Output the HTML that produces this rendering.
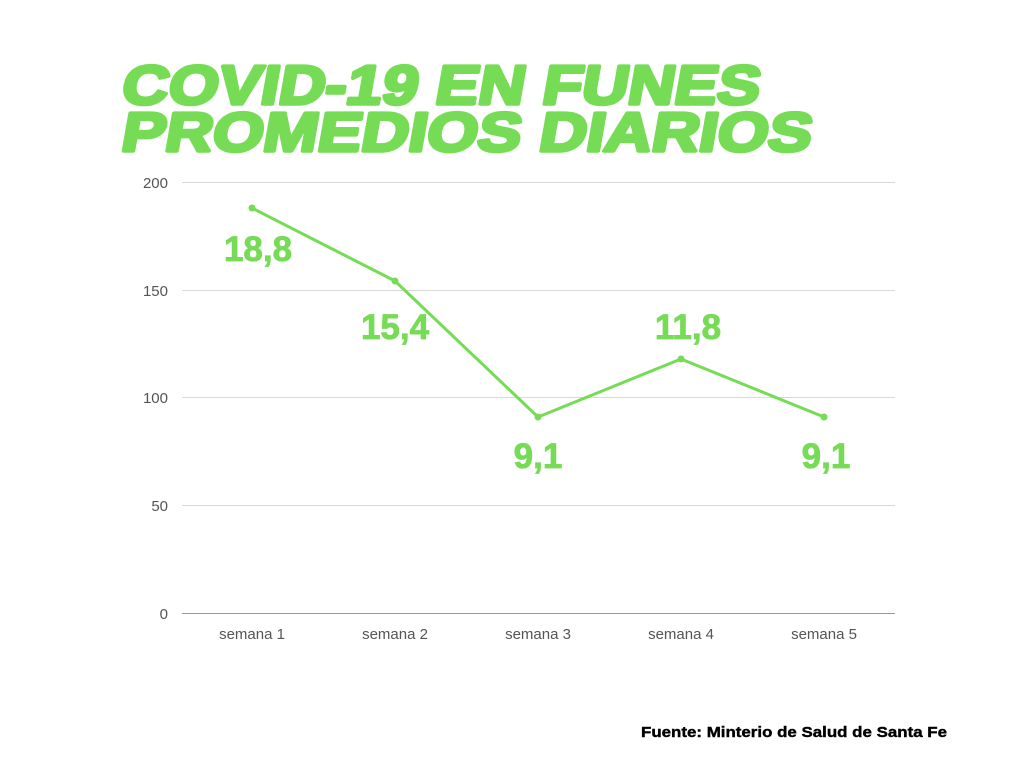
<!DOCTYPE html>
<html><head><meta charset="utf-8"><style>
html,body{margin:0;padding:0;background:#fff;}
svg{display:block;}
</style></head><body>
<svg width="1024" height="768" viewBox="0 0 1024 768" xmlns="http://www.w3.org/2000/svg">
<rect width="1024" height="768" fill="#fff"/>
<g font-family="Liberation Sans, sans-serif" font-weight="bold" fill="#76DB55" stroke="#76DB55" stroke-width="3.5" stroke-linejoin="round" font-size="55">
<text x="120" y="104" textLength="638" lengthAdjust="spacingAndGlyphs" transform="skewX(-10) translate(18,0)">COVID-19 EN FUNES</text>
<text x="120" y="151" textLength="690" lengthAdjust="spacingAndGlyphs" transform="skewX(-10) translate(26,0)">PROMEDIOS DIARIOS</text>
</g>
<g stroke="#d9d9d9" stroke-width="1">
<line x1="182" y1="182.5" x2="895" y2="182.5"/>
<line x1="182" y1="290.5" x2="895" y2="290.5"/>
<line x1="182" y1="397.5" x2="895" y2="397.5"/>
<line x1="182" y1="505.5" x2="895" y2="505.5"/>
</g>
<line x1="182" y1="613.5" x2="895" y2="613.5" stroke="#999" stroke-width="1"/>
<g font-family="Liberation Sans, sans-serif" font-size="15" fill="#555" text-anchor="end">
<text x="168" y="188">200</text>
<text x="168" y="296">150</text>
<text x="168" y="403">100</text>
<text x="168" y="511">50</text>
<text x="168" y="619">0</text>
</g>
<g font-family="Liberation Sans, sans-serif" font-size="15" fill="#555" text-anchor="middle">
<text x="252" y="639">semana 1</text>
<text x="395" y="639">semana 2</text>
<text x="538" y="639">semana 3</text>
<text x="681" y="639">semana 4</text>
<text x="824" y="639">semana 5</text>
</g>
<polyline points="252,208 395,281 538,417 681,359 824,417" fill="none" stroke="#76DB55" stroke-width="3" stroke-linejoin="round"/>
<g fill="#76DB55">
<circle cx="252" cy="208" r="3.5"/><circle cx="395" cy="281" r="3.5"/><circle cx="538" cy="417" r="3.5"/><circle cx="681" cy="359" r="3.5"/><circle cx="824" cy="417" r="3.5"/>
</g>
<g font-family="Liberation Sans, sans-serif" font-weight="bold" font-size="35" fill="#76DB55" stroke="#76DB55" stroke-width="0.8" text-anchor="middle">
<text x="258" y="261">18,8</text>
<text x="395" y="339">15,4</text>
<text x="538" y="468">9,1</text>
<text x="688" y="339">11,8</text>
<text x="826" y="468">9,1</text>
</g>
<text x="641" y="737" font-family="Liberation Sans, sans-serif" font-weight="bold" font-size="15" fill="#000" stroke="#000" stroke-width="0.4" textLength="306" lengthAdjust="spacingAndGlyphs">Fuente: Minterio de Salud de Santa Fe</text>
</svg>
</body></html>
